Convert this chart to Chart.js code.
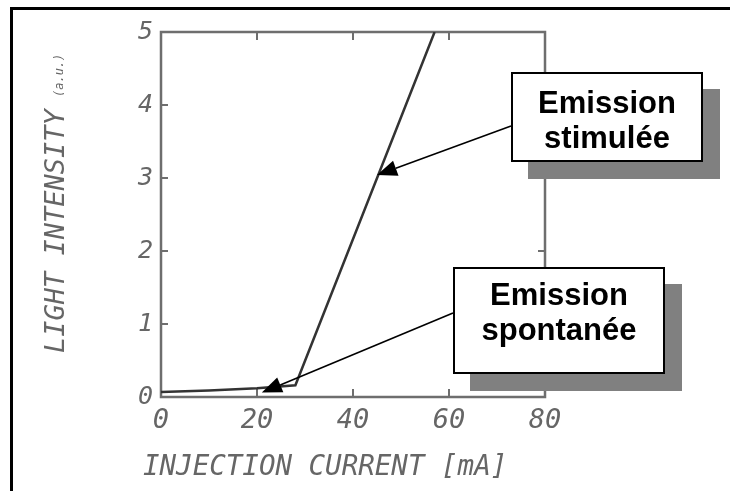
<!DOCTYPE html>
<html>
<head>
<meta charset="utf-8">
<title>Light intensity vs injection current</title>
<script src="https://cdn.jsdelivr.net/npm/chart.js@4.4.1/dist/chart.umd.min.js"></script>
<style>
  html, body { margin: 0; padding: 0; background: #fff; }
  #wrap { position: relative; width: 730px; height: 491px; overflow: hidden; }
  #frame {
    position: absolute; left: 10px; top: 7px; width: 760px; height: 520px;
    border-top: 3px solid #000; border-left: 3px solid #000;
  }
  #chart { position: absolute; left: 0; top: 0; }
  .callout {
    position: absolute; box-sizing: border-box; background: #fff;
    border: 2px solid #000; box-shadow: 17px 17px 0 #808080;
    font: bold 31px "Liberation Sans", Arial, sans-serif; line-height: 35px;
    text-align: center; color: #000;
  }
  #stim { left: 511px; top: 72px; width: 192px; height: 90px; padding-top: 11px; }
  #spon { left: 453px; top: 267px; width: 212px; height: 107px; padding-top: 8px; }
</style>
</head>
<body>
<div id="wrap">
  <div id="frame"></div>
  <canvas id="chart" width="730" height="491"></canvas>
  <div class="callout" id="stim">Emission<br>stimulée</div>
  <div class="callout" id="spon">Emission<br>spontanée</div>
</div>
<script>
// Data
const currentMa = [0, 10, 20, 28, 57];
const intensity = [0.07, 0.09, 0.12, 0.16, 5.0];

// Tick labels
const xTicks = [0, 20, 40, 60, 80];
const yTicks = [0, 1, 2, 3, 4, 5];

// Axis titles
const xTitle = 'INJECTION CURRENT [mA]';
const yTitle = 'LIGHT INTENSITY';
const yUnit = '(a.u.)';

// Where each callout arrow points (data units) and where it leaves its box (pixels)
const stimTarget = { x: 45, y: 3.04 };
const sponTarget = { x: 21, y: 0.06 };
const stimFrom = [511, 126];
const sponFrom = [453, 313];

const AXIS_GREY = '#6e6e6e';
const LABEL_GREY = '#666';
const MONO = '"DejaVu Sans Mono", monospace';

function drawArrow(ctx, x0, y0, x1, y1) {
  const ang = Math.atan2(y1 - y0, x1 - x0);
  const headLen = 20, headHalf = 8;
  const bx = x1 - headLen * Math.cos(ang);
  const by = y1 - headLen * Math.sin(ang);
  ctx.beginPath();
  ctx.moveTo(x0, y0);
  ctx.lineTo(bx, by);
  ctx.stroke();
  ctx.beginPath();
  ctx.moveTo(x1, y1);
  ctx.lineTo(bx + headHalf * Math.sin(ang), by - headHalf * Math.cos(ang));
  ctx.lineTo(bx - headHalf * Math.sin(ang), by + headHalf * Math.cos(ang));
  ctx.closePath();
  ctx.fill();
}

// Plot box with inward tick marks, axis titles and arrows
const decorPlugin = {
  id: 'decor',
  beforeDatasetsDraw(chart) {
    const { ctx, chartArea: a, scales } = chart;
    ctx.save();
    ctx.strokeStyle = AXIS_GREY;
    ctx.lineWidth = 2.5;
    ctx.strokeRect(a.left, a.top, a.right - a.left, a.bottom - a.top);
    ctx.lineWidth = 2;
    ctx.beginPath();
    xTicks.forEach(v => {
      const px = scales.x.getPixelForValue(v);
      ctx.moveTo(px, a.bottom); ctx.lineTo(px, a.bottom - 8);
      ctx.moveTo(px, a.top); ctx.lineTo(px, a.top + 8);
    });
    yTicks.forEach(v => {
      const py = scales.y.getPixelForValue(v);
      ctx.moveTo(a.left, py); ctx.lineTo(a.left + 7, py);
      ctx.moveTo(a.right, py); ctx.lineTo(a.right - 7, py);
    });
    ctx.stroke();
    ctx.restore();
  },
  afterDraw(chart) {
    const { ctx, scales } = chart;
    ctx.save();
    ctx.fillStyle = LABEL_GREY;
    ctx.textBaseline = 'middle';
    ctx.textAlign = 'left';

    // x title
    ctx.font = 'italic 27.5px ' + MONO;
    ctx.fillText(xTitle, 143, 468);

    // y title, rotated, with the smaller unit above it
    ctx.save();
    ctx.translate(57, 353);
    ctx.rotate(-Math.PI / 2);
    ctx.font = 'italic 27px ' + MONO;
    ctx.fillText(yTitle, 0, 0);
    ctx.restore();
    ctx.save();
    ctx.translate(60, 97);
    ctx.rotate(-Math.PI / 2);
    ctx.font = 'italic 12px ' + MONO;
    ctx.fillText(yUnit, 0, 0);
    ctx.restore();

    // callout arrows
    ctx.strokeStyle = '#000';
    ctx.fillStyle = '#000';
    ctx.lineWidth = 1.6;
    drawArrow(ctx, stimFrom[0], stimFrom[1],
      scales.x.getPixelForValue(stimTarget.x), scales.y.getPixelForValue(stimTarget.y));
    drawArrow(ctx, sponFrom[0], sponFrom[1],
      scales.x.getPixelForValue(sponTarget.x), scales.y.getPixelForValue(sponTarget.y));
    ctx.restore();
  }
};

const points = currentMa.map((x, i) => ({ x: x, y: intensity[i] }));

new Chart(document.getElementById('chart'), {
  type: 'line',
  data: {
    datasets: [{
      data: points,
      borderColor: '#333',
      borderWidth: 2.5,
      pointRadius: 0,
      tension: 0,
      fill: false,
    }],
  },
  options: {
    responsive: false,
    animation: false,
    events: [],
    layout: { padding: { left: 0, top: 32, right: 185, bottom: 0 } },
    plugins: { legend: { display: false }, tooltip: { enabled: false } },
    scales: {
      x: {
        type: 'linear',
        min: 0,
        max: 80,
        afterBuildTicks: s => { s.ticks = xTicks.map(v => ({ value: v })); },
        afterFit: s => { s.height = 94; },
        grid: { display: false, drawTicks: false },
        border: { display: false },
        ticks: {
          padding: 8,
          color: LABEL_GREY,
          font: { family: MONO, size: 27, style: 'italic' },
          maxRotation: 0,
        },
      },
      y: {
        min: 0,
        max: 5,
        afterBuildTicks: s => { s.ticks = yTicks.map(v => ({ value: v })); },
        afterFit: s => { s.width = 161; },
        grid: { display: false, drawTicks: false },
        border: { display: false },
        ticks: {
          padding: 8,
          color: LABEL_GREY,
          font: { family: MONO, size: 25, style: 'italic' },
        },
      },
    },
  },
  plugins: [decorPlugin],
});
</script>
</body>
</html>
